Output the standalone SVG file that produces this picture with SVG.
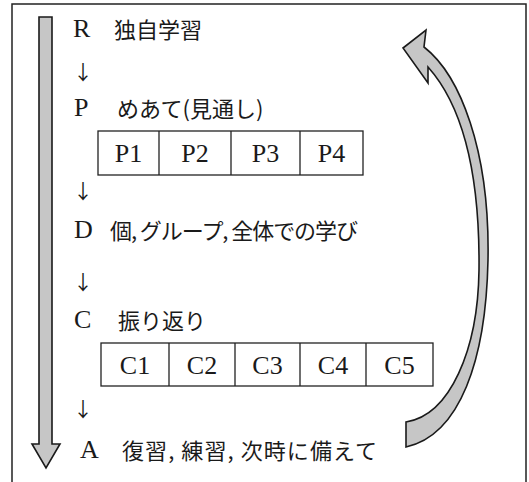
<svg xmlns="http://www.w3.org/2000/svg" width="529" height="482" viewBox="0 0 529 482">
<style>
.lat{font-family:"Liberation Serif","DejaVu Serif",serif;font-size:26px;fill:#1a1a1a}
.jp{font-family:"Noto Sans CJK JP","Noto Sans",sans-serif;font-size:22px;fill:#1a1a1a}
.arr{font-family:"Noto Sans CJK JP","DejaVu Sans",sans-serif;font-size:20px;fill:#1a1a1a}
.box{fill:#fff;stroke:#222;stroke-width:1.3}
.blk{fill:#c6c6c6;stroke:#1a1a1a;stroke-width:1.6;stroke-linejoin:miter}
.cell{font-family:"Liberation Serif","DejaVu Serif",serif;font-size:26px;fill:#1a1a1a;text-anchor:middle}
</style>
<rect width="529" height="482" fill="#fff"/>
<path d="M12,482 V4 H526 V482" fill="none" stroke="#222" stroke-width="1.5"/>
<g id="connectors">
<path class="blk" d="M39,17 H52 V444 H60 L46,468 L32,444 H39 Z"/>
<path class="blk" d="M424,47 C460,75 490,150 488,260 C486,360 460,435 406,447 L406,422 C450,415 478,350 479,270 C480,170 462,105 428,67 L428,83 L403,48 L426,30 Z"/>
<text class="arr" x="73" y="80">↓</text>
<text class="arr" x="73" y="199">↓</text>
<text class="arr" x="73" y="290">↓</text>
<text class="arr" x="73" y="417">↓</text>
</g>
<g id="R"><text class="lat" x="73" y="37">R</text><text class="jp" x="114" y="38">独自学習</text></g>
<g id="P"><text class="lat" x="74" y="116">P</text><text class="jp" x="117" y="117">めあて(見通し)</text></g>
<g id="Pboxes">
<rect class="box" x="98" y="131" width="265" height="44"/>
<path d="M159,131V175M231,131V175M300,131V175" stroke="#222" stroke-width="1.3"/>
<text class="cell" x="128.5" y="162">P1</text>
<text class="cell" x="195" y="162">P2</text>
<text class="cell" x="265.5" y="162">P3</text>
<text class="cell" x="331.5" y="162">P4</text>
</g>
<g id="D"><text class="lat" x="74" y="238">D</text><text class="jp" x="110" y="239" textLength="248" lengthAdjust="spacing">個, グループ, 全体での学び</text></g>
<g id="C"><text class="lat" x="74" y="328">C</text><text class="jp" x="118" y="329">振り返り</text></g>
<g id="Cboxes">
<rect class="box" x="101" y="343" width="332" height="43"/>
<path d="M169,343V386M235,343V386M300,343V386M366,343V386" stroke="#222" stroke-width="1.3"/>
<text class="cell" x="135" y="374">C1</text>
<text class="cell" x="202" y="374">C2</text>
<text class="cell" x="267.5" y="374">C3</text>
<text class="cell" x="333" y="374">C4</text>
<text class="cell" x="399.5" y="374">C5</text>
</g>
<g id="A"><text class="lat" x="80" y="458">A</text><text class="jp" x="122" y="459" textLength="255" lengthAdjust="spacing">復習, 練習, 次時に備えて</text></g>
</svg>
